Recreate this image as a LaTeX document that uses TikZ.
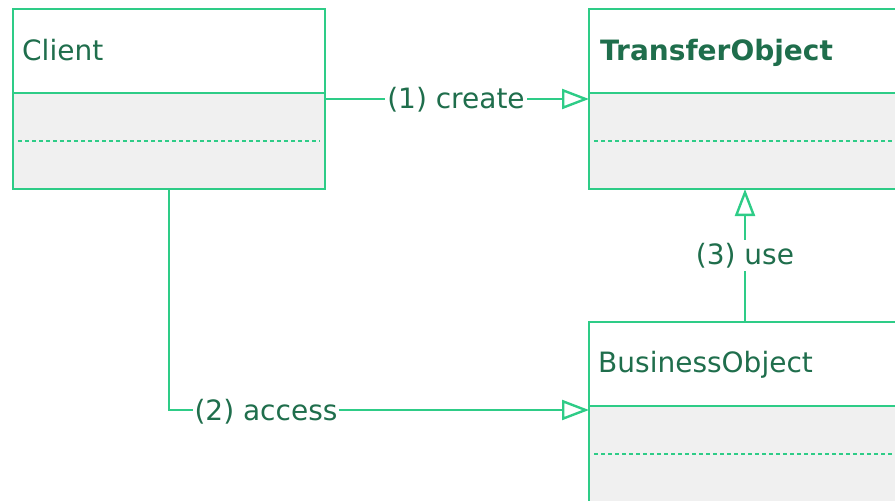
\documentclass[tikz,border=0pt]{standalone}
\usepackage{fontspec}
\setmainfont{DejaVu Sans}
\usetikzlibrary{arrows.meta}
\definecolor{edge}{HTML}{2ECC87}
\definecolor{ink}{HTML}{1F6E4C}
\definecolor{bodygray}{HTML}{F0F0F0}
\tikzset{
  x=1pt, y=-1pt,
  classbody/.style={fill=bodygray, minimum width=312pt, minimum height=180pt, inner sep=0pt, outer sep=0pt},
  edgeline/.style={draw=edge, line width=2.4pt},
  sepline/.style={draw=edge, line width=1.6pt, dash pattern=on 4pt off 3pt},
  classtitle/.style={anchor=base west, text=ink, inner sep=0pt, font=\fontsize{28}{32}\selectfont},
  connector/.style={edgeline, -{Triangle[open, length=27pt, width=20pt, line width=2.4pt]}},
  conlabel/.style={anchor=base, fill=white, text=ink, inner xsep=2pt, inner ysep=3pt, font=\fontsize{28}{32}\selectfont}
}
% A UML class: gray body, white name compartment, divider, dashed separator, outline
\newcommand\umlclass[1]{%
  \fill[white] (#1.north west) rectangle ([yshift=-84pt]#1.north east);
  \draw[sepline] ([xshift=5pt,yshift=-132pt]#1.north west) -- ([xshift=-5pt,yshift=-132pt]#1.north east);
  \draw[edgeline] ([yshift=-84pt]#1.north west) -- ([yshift=-84pt]#1.north east);
  \draw[edgeline] (#1.north west) rectangle (#1.south east);
}
\begin{document}
\begin{tikzpicture}
\useasboundingbox (0,0) rectangle (895,501);
\clip (0,0) rectangle (895,501);

\node[classbody] (client) at (169,99) {};
\umlclass{client}
\node[classtitle] (client-name) at (22,60) {Client};

\node[classbody] (transfer) at (745,99) {};
\umlclass{transfer}
\node[classtitle, font=\fontsize{28}{32}\selectfont\bfseries] (transfer-name) at (600,60) {TransferObject};

\node[classbody] (business) at (745,412) {};
\umlclass{business}
\node[classtitle] (business-name) at (598,372) {BusinessObject};

\coordinate (business-in) at (589,410);

\draw[connector] (client.east) -- (transfer.west);
\node[conlabel] (create) at (456,108) {(1) create};

\draw[connector] (client.south) |- (business-in);
\node[conlabel] (access) at (266,420) {(2) access};

\draw[connector] (business.north) -- (transfer.south);
\node[conlabel] (use) at (745,264) {(3) use};
\end{tikzpicture}
\end{document}
